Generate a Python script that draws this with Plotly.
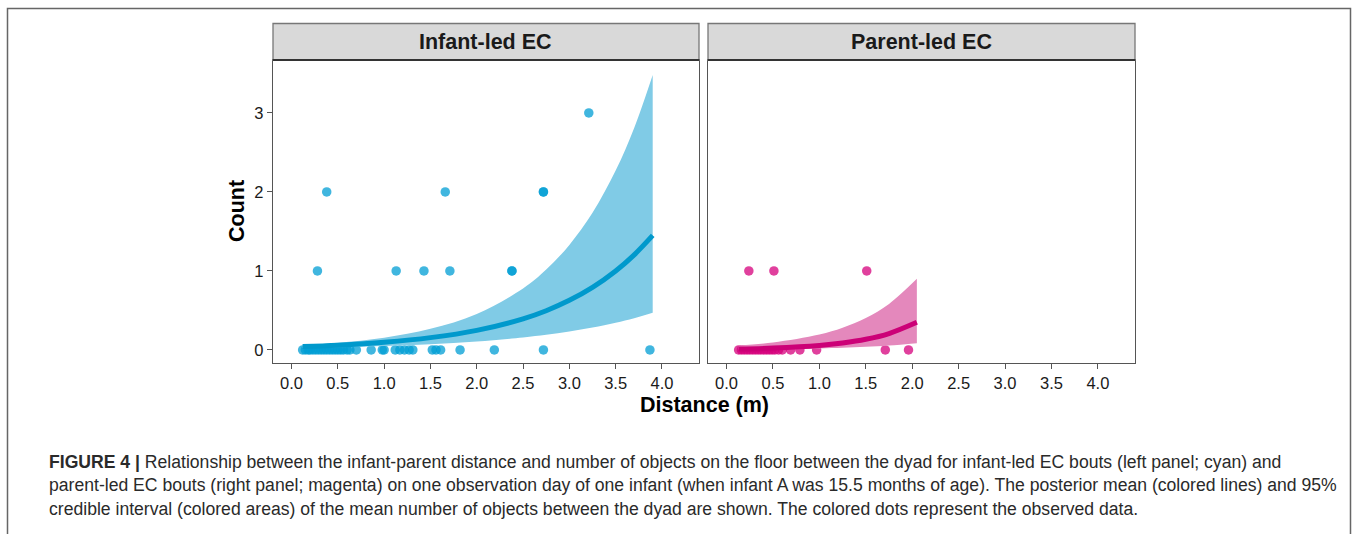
import plotly.graph_objects as go

W, H = 1358, 534

# ---------------- data ----------------
panel_titles = ["Infant-led EC", "Parent-led EC"]
x_ticks = [0.0, 0.5, 1.0, 1.5, 2.0, 2.5, 3.0, 3.5, 4.0]
y_ticks = [0, 1, 2, 3]

# Infant-led observed data (distance, count)
inf_x = [0.12, 0.15, 0.18, 0.20, 0.23, 0.26, 0.29, 0.32, 0.35, 0.38, 0.41, 0.44,
         0.47, 0.50, 0.53, 0.56, 0.60, 0.63, 0.70, 0.86, 0.98, 1.00, 1.12, 1.17,
         1.22, 1.27, 1.31, 1.52, 1.56, 1.61, 1.82, 2.19, 2.72, 3.87,
         0.28, 1.13, 1.43, 1.71, 2.38, 2.38,
         0.38, 1.66, 2.72, 2.72,
         3.21]
inf_y = [0] * 34 + [1] * 6 + [2] * 4 + [3]

# Infant-led posterior mean and 95% CI
inf_fx = [0.12, 0.5, 1.0, 1.5, 2.0, 2.5, 2.75, 3.0, 3.25, 3.5, 3.7, 3.9]
inf_mean = [0.043, 0.061, 0.098, 0.156, 0.248, 0.394, 0.497, 0.628, 0.792, 1.00, 1.204, 1.45]
inf_lo = [0.025, 0.033, 0.049, 0.072, 0.107, 0.158, 0.192, 0.233, 0.283, 0.344, 0.402, 0.47]
inf_hi = [0.061, 0.091, 0.156, 0.267, 0.456, 0.778, 1.017, 1.33, 1.736, 2.27, 2.81, 3.48]

# Parent-led observed data
par_x = [0.13, 0.16, 0.19, 0.22, 0.25, 0.28, 0.31, 0.34, 0.37, 0.40, 0.43, 0.46,
         0.49, 0.52, 0.56, 0.60, 0.69, 0.79, 0.97, 1.71, 1.96,
         0.24, 0.51, 1.51]
par_y = [0] * 21 + [1] * 3

# Parent-led posterior mean and 95% CI
par_fx = [0.13, 0.5, 1.0, 1.25, 1.5, 1.75, 2.05]
par_mean = [0.0126, 0.024, 0.057, 0.088, 0.135, 0.208, 0.35]
par_lo = [0.006, 0.010, 0.020, 0.028, 0.040, 0.056, 0.085]
par_hi = [0.056, 0.095, 0.196, 0.282, 0.405, 0.583, 0.90]

caption_lines = [
    "<b>FIGURE 4 |</b> Relationship between the infant-parent distance and number of objects on the floor between the dyad for infant-led EC bouts (left panel; cyan) and",
    "parent-led EC bouts (right panel; magenta) on one observation day of one infant (when infant A was 15.5 months of age). The posterior mean (colored lines) and 95%",
    "credible interval (colored areas) of the mean number of objects between the dyad are shown. The colored dots represent the observed data.",
]

# ---------------- style ----------------
CY_RIB, CY_LINE, CY_PT = "#80CBE6", "#0099CC", "rgba(0,157,212,0.75)"
MG_RIB, MG_LINE, MG_PT = "#E488BC", "#CC0077", "rgba(214,0,124,0.75)"
FONT = "Liberation Sans, Arial, sans-serif"
CAP_FONT = "Liberation Sans, Arial, sans-serif"

def px(x):
    return x / W

def py(y):
    return 1 - y / H

fig = go.Figure()

panels = [
    ("x", "y", inf_fx, inf_lo, inf_hi, inf_mean, inf_x, inf_y, CY_RIB, CY_LINE, CY_PT),
    ("x2", "y2", par_fx, par_lo, par_hi, par_mean, par_x, par_y, MG_RIB, MG_LINE, MG_PT),
]
for xa, ya, fx, lo, hi, mean, ox, oy, rib, lc, pc in panels:
    fig.add_trace(go.Scatter(x=ox, y=oy, mode="markers", xaxis=xa, yaxis=ya,
                             marker=dict(size=9.5, color=pc, line=dict(width=0)),
                             showlegend=False, hoverinfo="skip"))
    fig.add_trace(go.Scatter(x=fx, y=lo, mode="lines", xaxis=xa, yaxis=ya,
                             line=dict(width=0, color=rib, shape="spline"),
                             showlegend=False, hoverinfo="skip"))
    fig.add_trace(go.Scatter(x=fx, y=hi, mode="lines", xaxis=xa, yaxis=ya, fill="tonexty",
                             fillcolor=rib, line=dict(width=0, color=rib, shape="spline"),
                             showlegend=False, hoverinfo="skip"))
    fig.add_trace(go.Scatter(x=fx, y=mean, mode="lines", xaxis=xa, yaxis=ya,
                             line=dict(width=5, color=lc, shape="spline"),
                             showlegend=False, hoverinfo="skip"))

axis_common = dict(showgrid=False, zeroline=False, showline=True, linecolor="#555555",
                   linewidth=1.3, mirror=True, ticks="outside", ticklen=5, tickwidth=1.2,
                   tickcolor="#555555", tickfont=dict(family=FONT, size=16.5, color="#1a1a1a"))

dom1 = [px(273), px(699)]
dom2 = [px(708), px(1135)]
ydom = [py(363), py(60)]

fig.update_layout(
    width=W, height=H, autosize=False,
    margin=dict(l=0, r=0, t=0, b=0),
    paper_bgcolor="white", plot_bgcolor="white",
    xaxis=dict(domain=dom1, range=[-0.2, 4.4], tickvals=x_ticks, tickformat=".1f",
               anchor="y", **axis_common),
    xaxis2=dict(domain=dom2, range=[-0.2, 4.4], tickvals=x_ticks, tickformat=".1f",
                anchor="y2", **axis_common),
    yaxis=dict(domain=ydom, range=[-0.165, 3.67], tickvals=y_ticks, anchor="x", **axis_common),
    yaxis2=dict(domain=ydom, range=[-0.165, 3.67], tickvals=y_ticks, anchor="x2",
                showticklabels=False, **{k: v for k, v in axis_common.items() if k != "ticks"},
                ticks=""),
)

shapes = []
annotations = []
# outer frame
shapes.append(dict(type="rect", xref="paper", yref="paper", x0=px(7.5), x1=px(1350.5),
                   y0=py(545), y1=py(8.5), line=dict(color="#666666", width=1.5),
                   fillcolor="rgba(0,0,0,0)", layer="below"))
for dom, title in zip([dom1, dom2], panel_titles):
    shapes.append(dict(type="rect", xref="paper", yref="paper", x0=dom[0], x1=dom[1],
                       y0=py(60), y1=py(23.5), fillcolor="#D9D9D9",
                       line=dict(color="#777777", width=1.3)))
    shapes.append(dict(type="line", xref="paper", yref="paper", x0=dom[0], x1=dom[1],
                       y0=py(60), y1=py(60), line=dict(color="#333333", width=2.2)))
    annotations.append(dict(xref="paper", yref="paper", x=(dom[0] + dom[1]) / 2, y=py(42),
                            text="<b>" + title + "</b>", showarrow=False,
                            font=dict(family=FONT, size=21.5, color="#1a1a1a"),
                            xanchor="center", yanchor="middle"))

annotations.append(dict(xref="paper", yref="paper", x=px(704), y=py(405),
                        text="<b>Distance (m)</b>", showarrow=False,
                        font=dict(family=FONT, size=21.5, color="#000000"),
                        xanchor="center", yanchor="middle"))
annotations.append(dict(xref="paper", yref="paper", x=px(237), y=py(211),
                        text="<b>Count</b>", showarrow=False, textangle=-90,
                        font=dict(family=FONT, size=21.5, color="#000000"),
                        xanchor="center", yanchor="middle"))
for i, line in enumerate(caption_lines):
    annotations.append(dict(xref="paper", yref="paper", x=px(47), y=py(462 + 23.5 * i),
                            text=line, showarrow=False, align="left",
                            font=dict(family=CAP_FONT, size=17.6, color="#2a2a2a"),
                            xanchor="left", yanchor="middle"))

fig.update_layout(shapes=shapes, annotations=annotations)
fig.write_html("out.html", config={"displayModeBar": False},
               post_script="document.body.style.margin='0';document.body.style.overflow='hidden';")
